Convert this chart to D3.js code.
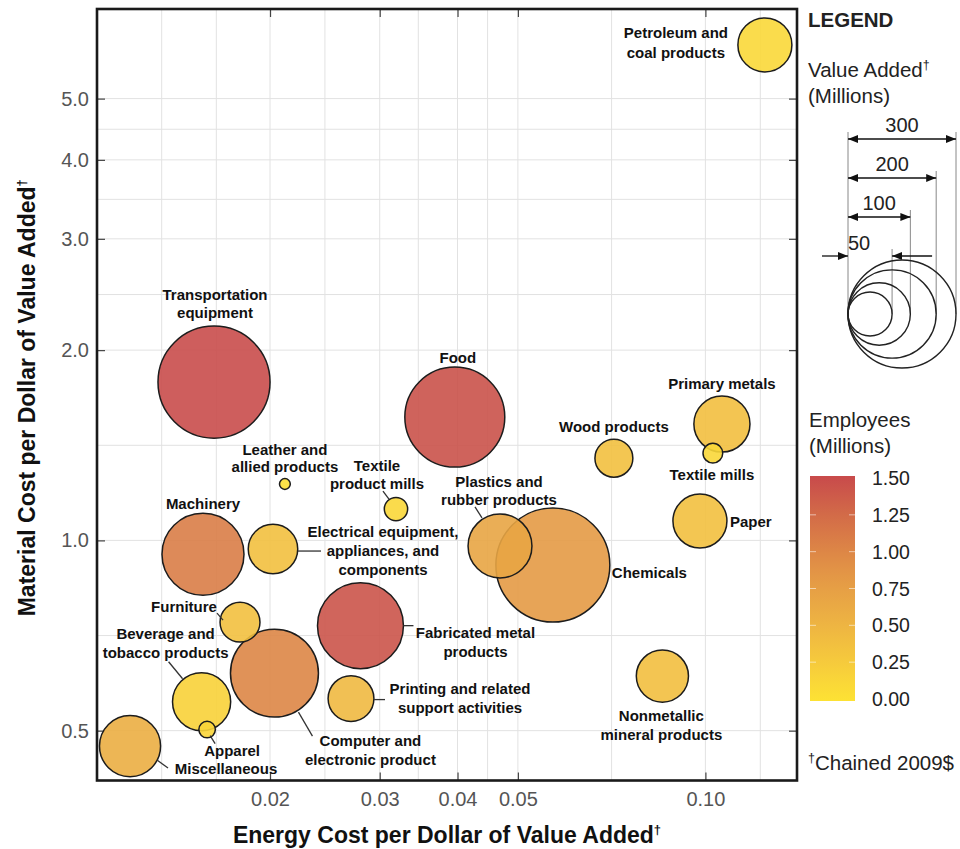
<!DOCTYPE html>
<html>
<head>
<meta charset="utf-8">
<script src="https://cdn.jsdelivr.net/npm/d3@7"></script>
<style>
  body { margin: 0; background: #fff; }
  svg { display: block; font-family: "Liberation Sans", Arial, Helvetica, sans-serif; }
</style>
</head>
<body>
<svg id="chart" width="960" height="849"></svg>
<script>
// Manufacturing industries: energy vs. material cost per dollar of value added
const industries = [
  "Petroleum and coal products", "Transportation equipment", "Food",
  "Leather and allied products", "Textile product mills", "Machinery",
  "Electrical equipment, appliances, and components", "Plastics and rubber products",
  "Chemicals", "Wood products", "Primary metals", "Textile mills", "Paper",
  "Nonmetallic mineral products", "Furniture", "Beverage and tobacco products",
  "Apparel", "Computer and electronic product", "Fabricated metal products",
  "Printing and related support activities", "Miscellaneous"
];
const energyCost   = [0.1246, 0.01626, 0.0396, 0.02113, 0.03186, 0.01561, 0.02022, 0.0468,
                      0.0569, 0.0713, 0.1063, 0.1028, 0.0980, 0.0853, 0.0179, 0.01553,
                      0.01585, 0.02033, 0.02794, 0.02698, 0.01192];
const materialCost = [6.08, 1.78, 1.567, 1.228, 1.121, 0.951, 0.969, 0.980,
                      0.914, 1.349, 1.528, 1.374, 1.073, 0.610, 0.7425, 0.5556,
                      0.502, 0.6166, 0.733, 0.562, 0.4727];
const valueAdded   = [75, 323, 257, 3, 14, 173, 63, 105,
                      334, 37, 81, 10, 75, 70, 41, 87,
                      7, 199, 190, 54, 96];
const employees    = [0.11, 1.48, 1.44, 0.03, 0.12, 1.08, 0.38, 0.68,
                      0.80, 0.38, 0.39, 0.12, 0.37, 0.39, 0.38, 0.17,
                      0.14, 1.00, 1.42, 0.46, 0.58];
const labelLines = [
  ["Petroleum and", "coal products"], ["Transportation", "equipment"], ["Food"],
  ["Leather and", "allied products"], ["Textile", "product mills"], ["Machinery"],
  ["Electrical equipment,", "appliances, and", "components"], ["Plastics and", "rubber products"],
  ["Chemicals"], ["Wood products"], ["Primary metals"], ["Textile mills"], ["Paper"],
  ["Nonmetallic", "mineral products"], ["Furniture"], ["Beverage and", "tobacco products"],
  ["Apparel"], ["Computer and", "electronic product"], ["Fabricated metal", "products"],
  ["Printing and related", "support activities"], ["Miscellaneous"]
];

const xTickValues = [0.02, 0.03, 0.04, 0.05, 0.10];
const xTickLabels = ["0.02", "0.03", "0.04", "0.05", "0.10"];
const yTickValues = [0.5, 1, 2, 3, 4, 5];
const yTickLabels = ["0.5", "1.0", "2.0", "3.0", "4.0", "5.0"];
const xGridValues = [0.0134, 0.0164, 0.02, 0.0245, 0.03, 0.0346, 0.04, 0.0447, 0.05, 0.0707, 0.10, 0.1225];
const yGridValues = [0.5, 0.707, 1, 1.414, 2, 2.449, 3, 3.464, 4, 4.472, 5];
const sizeLegendValues = [300, 200, 100, 50];
const colorLegendTicks = [0, 0.25, 0.5, 0.75, 1, 1.25, 1.5];
const colorLegendLabels = ["0.00", "0.25", "0.50", "0.75", "1.00", "1.25", "1.50"];

// Label placement relative to bubble centre: [dx, dy, lineHeight, anchor, leader]
const labelPlacement = [
  [-89, -12, 20, "middle", null],
  [1, -88, 18, "middle", null],
  [3, -60, 18, "middle", null],
  [0, -34, 17, "middle", null],
  [-19, -43, 18, "middle", [-13, -18, -7, -10]],
  [0, -51, 18, "middle", null],
  [110, -17, 19, "middle", [25, 2, 48, 2]],
  [-1, -64, 18, "middle", [-25, -39, -18, -28]],
  [59, 8, 18, "start", null],
  [0, -32, 18, "middle", null],
  [0, -40, 18, "middle", null],
  [-1, 21, 18, "middle", null],
  [30, 1, 18, "start", null],
  [-1, 40, 19, "middle", null],
  [-56, -16, 18, "middle", [-23, -9, -17, -2]],
  [-36, -68, 19, "middle", [-33, -40, -19, -23]],
  [25, 21, 18, "middle", [3, 6, 8, 14]],
  [96, 67, 19, "middle", [24, 39, 38, 63]],
  [115, 7, 19, "middle", [43, 0, 53, 0]],
  [109, -10, 19, "middle", [23, 1, 34, 1]],
  [96, 23, 18, "middle", [27, 14, 38, 22]]
];

const svg = d3.select("#chart");
const plot = { left: 97, top: 9, right: 797, bottom: 780.5 };

const x = d3.scaleLog().domain([0.01055, 0.1403]).range([plot.left, plot.right]);
const y = d3.scaleLog().domain([0.417, 6.93]).range([plot.bottom, plot.top]);
const r = d3.scaleSqrt().domain([0, 300]).range([0, 54]);
const color = d3.scaleLinear()
  .domain([0, 0.25, 0.5, 0.75, 1.0, 1.25, 1.5])
  .range(["#fde234", "#f6cb3c", "#eeb542", "#e69f45", "#dd8646", "#d26a48", "#c84a4b"]);

// Grid
const grid = svg.append("g").attr("stroke", "#e2e2e2").attr("stroke-width", 1);
grid.selectAll("line.gx").data(xGridValues).join("line")
  .attr("x1", d => x(d)).attr("x2", d => x(d))
  .attr("y1", plot.top).attr("y2", plot.bottom);
grid.selectAll("line.gy").data(yGridValues).join("line")
  .attr("x1", plot.left).attr("x2", plot.right)
  .attr("y1", d => y(d)).attr("y2", d => y(d));

// Axes with inward ticks on all four sides
const tickLen = 8;
const fmtX = d => xTickLabels[xTickValues.indexOf(d)];
const fmtY = d => yTickLabels[yTickValues.indexOf(d)];

const axB = svg.append("g").attr("transform", `translate(0,${plot.bottom})`)
  .call(d3.axisBottom(x).tickValues(xTickValues).tickFormat(fmtX).tickSize(-tickLen).tickPadding(11));
const axT = svg.append("g").attr("transform", `translate(0,${plot.top})`)
  .call(d3.axisTop(x).tickValues(xTickValues).tickFormat("").tickSize(-tickLen));
const axL = svg.append("g").attr("transform", `translate(${plot.left},0)`)
  .call(d3.axisLeft(y).tickValues(yTickValues).tickFormat(fmtY).tickSize(-tickLen).tickPadding(8));
const axR = svg.append("g").attr("transform", `translate(${plot.right},0)`)
  .call(d3.axisRight(y).tickValues(yTickValues).tickFormat("").tickSize(-tickLen));

[axB, axT, axL, axR].forEach(g => {
  g.select(".domain").remove();
  g.selectAll(".tick line").attr("stroke", "#444").attr("stroke-width", 1.2);
  g.selectAll(".tick text").attr("fill", "#555").attr("font-size", 20)
    .attr("font-family", "'Liberation Sans', Arial, sans-serif");
});

// Frame
svg.append("rect")
  .attr("x", plot.left).attr("y", plot.top)
  .attr("width", plot.right - plot.left).attr("height", plot.bottom - plot.top)
  .attr("fill", "none").attr("stroke", "#1a1a1a").attr("stroke-width", 2.6);

// Bubbles, largest first so smaller ones sit on top
const rows = industries.map((name, i) => ({
  name, i,
  ex: energyCost[i], mc: materialCost[i], va: valueAdded[i], emp: employees[i],
  lines: labelLines[i], place: labelPlacement[i]
}));
const byArea = rows.slice().sort((a, b) => b.va - a.va);

svg.append("g").selectAll("circle").data(byArea).join("circle")
  .attr("cx", d => x(d.ex)).attr("cy", d => y(d.mc)).attr("r", d => r(d.va))
  .attr("fill", d => color(d.emp)).attr("fill-opacity", 0.9)
  .attr("stroke", "#1c1c1c").attr("stroke-width", 1.5);

// Leader lines
svg.append("g").selectAll("line").data(rows.filter(d => d.place[4])).join("line")
  .attr("x1", d => x(d.ex) + d.place[4][0]).attr("y1", d => y(d.mc) + d.place[4][1])
  .attr("x2", d => x(d.ex) + d.place[4][2]).attr("y2", d => y(d.mc) + d.place[4][3])
  .attr("stroke", "#333").attr("stroke-width", 1.3);

// Labels
const lbl = svg.append("g").attr("font-size", 15).attr("font-weight", "bold").attr("fill", "#111");
rows.forEach(d => {
  const [dx, dy, lh, anchor] = d.place;
  const t = lbl.append("text")
    .attr("text-anchor", anchor)
    .attr("x", x(d.ex) + dx);
  d.lines.forEach((line, k) => {
    t.append("tspan")
      .attr("x", x(d.ex) + dx)
      .attr("y", y(d.mc) + dy + k * lh)
      .attr("dy", "0.36em")
      .text(line);
  });
});

// Axis titles
const xt = svg.append("text")
  .attr("x", (plot.left + plot.right) / 2).attr("y", 843)
  .attr("text-anchor", "middle").attr("font-size", 23).attr("font-weight", "bold").attr("fill", "#111")
  .text("Energy Cost per Dollar of Value Added");
xt.append("tspan").attr("font-size", 13).attr("dy", -9).text("†");

const yt = svg.append("text")
  .attr("transform", `translate(35,${(plot.top + plot.bottom) / 2 + 3}) rotate(-90)`)
  .attr("text-anchor", "middle").attr("font-size", 23).attr("font-weight", "bold").attr("fill", "#111")
  .text("Material Cost per Dollar of Value Added");
yt.append("tspan").attr("font-size", 13).attr("dy", -9).text("†");

// Legend
const legFont = 20.5;
const leg = svg.append("g").attr("fill", "#222");
leg.append("text").attr("x", 808).attr("y", 27).attr("font-size", 20.5).attr("font-weight", "bold").text("LEGEND");
const va = leg.append("text").attr("x", 808).attr("y", 77).attr("font-size", legFont);
va.append("tspan").text("Value Added");
va.append("tspan").attr("font-size", 12.5).attr("dy", -8).text("†");
leg.append("text").attr("x", 808).attr("y", 103).attr("font-size", legFont).text("(Millions)");

// Size legend: circles tangent at a common left point, with dimension arrows
const defs = svg.append("defs");
defs.append("marker").attr("id", "arrow")
  .attr("viewBox", "0 0 10 8").attr("refX", 10).attr("refY", 4)
  .attr("markerWidth", 10).attr("markerHeight", 8).attr("markerUnits", "userSpaceOnUse")
  .attr("orient", "auto-start-reverse")
  .append("path").attr("d", "M0,0 L10,4 L0,8 Z").attr("fill", "#111");

const tangentX = 848, tangentY = 314;
const arrowY = [139, 178, 217, 256];
const sizeG = svg.append("g");
sizeG.append("line").attr("x1", tangentX).attr("x2", tangentX).attr("y1", 132).attr("y2", tangentY)
  .attr("stroke", "#888").attr("stroke-width", 1);
sizeLegendValues.forEach((v, k) => {
  const rr = r(v);
  const rightX = tangentX + 2 * rr;
  sizeG.append("line").attr("x1", rightX).attr("x2", rightX)
    .attr("y1", arrowY[k] - 7).attr("y2", tangentY)
    .attr("stroke", "#888").attr("stroke-width", 1);
  if (k < 3) {
    sizeG.append("line").attr("x1", tangentX).attr("x2", rightX)
      .attr("y1", arrowY[k]).attr("y2", arrowY[k])
      .attr("stroke", "#111").attr("stroke-width", 1.3)
      .attr("marker-start", "url(#arrow)").attr("marker-end", "url(#arrow)");
    sizeG.append("text").attr("x", tangentX + rr).attr("y", arrowY[k] - 7)
      .attr("text-anchor", "middle").attr("font-size", 20).attr("fill", "#222").text(v);
  } else {
    sizeG.append("line").attr("x1", tangentX - 26).attr("x2", tangentX)
      .attr("y1", arrowY[k]).attr("y2", arrowY[k])
      .attr("stroke", "#111").attr("stroke-width", 1.3).attr("marker-end", "url(#arrow)");
    sizeG.append("line").attr("x1", rightX + 40).attr("x2", rightX)
      .attr("y1", arrowY[k]).attr("y2", arrowY[k])
      .attr("stroke", "#111").attr("stroke-width", 1.3).attr("marker-end", "url(#arrow)");
    sizeG.append("text").attr("x", tangentX).attr("y", arrowY[k] - 6)
      .attr("font-size", 20).attr("fill", "#222").text(v);
  }
});
sizeG.selectAll("circle").data(sizeLegendValues).join("circle")
  .attr("cx", d => tangentX + r(d)).attr("cy", tangentY).attr("r", d => r(d))
  .attr("fill", "none").attr("stroke", "#222").attr("stroke-width", 1.4);

// Colour legend
leg.append("text").attr("x", 809).attr("y", 427).attr("font-size", legFont).text("Employees");
leg.append("text").attr("x", 809).attr("y", 453).attr("font-size", legFont).text("(Millions)");

const cy = d3.scaleLinear().domain([0, 1.5]).range([699, 478]);
const grad = defs.append("linearGradient").attr("id", "empGrad")
  .attr("x1", 0).attr("y1", 1).attr("x2", 0).attr("y2", 0);
d3.range(0, 1.5001, 0.125).forEach(v => {
  grad.append("stop").attr("offset", v / 1.5).attr("stop-color", color(v));
});
svg.append("rect").attr("x", 810).attr("y", 476).attr("width", 45).attr("height", 225)
  .attr("fill", "url(#empGrad)");
const inner = colorLegendTicks.filter(v => v > 0 && v < 1.5);
svg.append("g").selectAll("line.l").data(inner).join("line")
  .attr("x1", 810).attr("x2", 816).attr("y1", d => cy(d)).attr("y2", d => cy(d))
  .attr("stroke", "#fff").attr("stroke-opacity", 0.55).attr("stroke-width", 1);
svg.append("g").selectAll("line.r").data(inner).join("line")
  .attr("x1", 849).attr("x2", 855).attr("y1", d => cy(d)).attr("y2", d => cy(d))
  .attr("stroke", "#fff").attr("stroke-opacity", 0.55).attr("stroke-width", 1);
svg.append("g").selectAll("text").data(colorLegendTicks).join("text")
  .attr("x", 872).attr("y", d => cy(d)).attr("dy", "0.36em")
  .attr("font-size", 19.5).attr("fill", "#222")
  .text((d, k) => colorLegendLabels[k]);

const foot = leg.append("text").attr("x", 808).attr("y", 770).attr("font-size", legFont);
foot.append("tspan").attr("font-size", 12.5).attr("dy", -8).text("†");
foot.append("tspan").attr("dy", 8).text("Chained 2009$");
</script>
</body>
</html>
